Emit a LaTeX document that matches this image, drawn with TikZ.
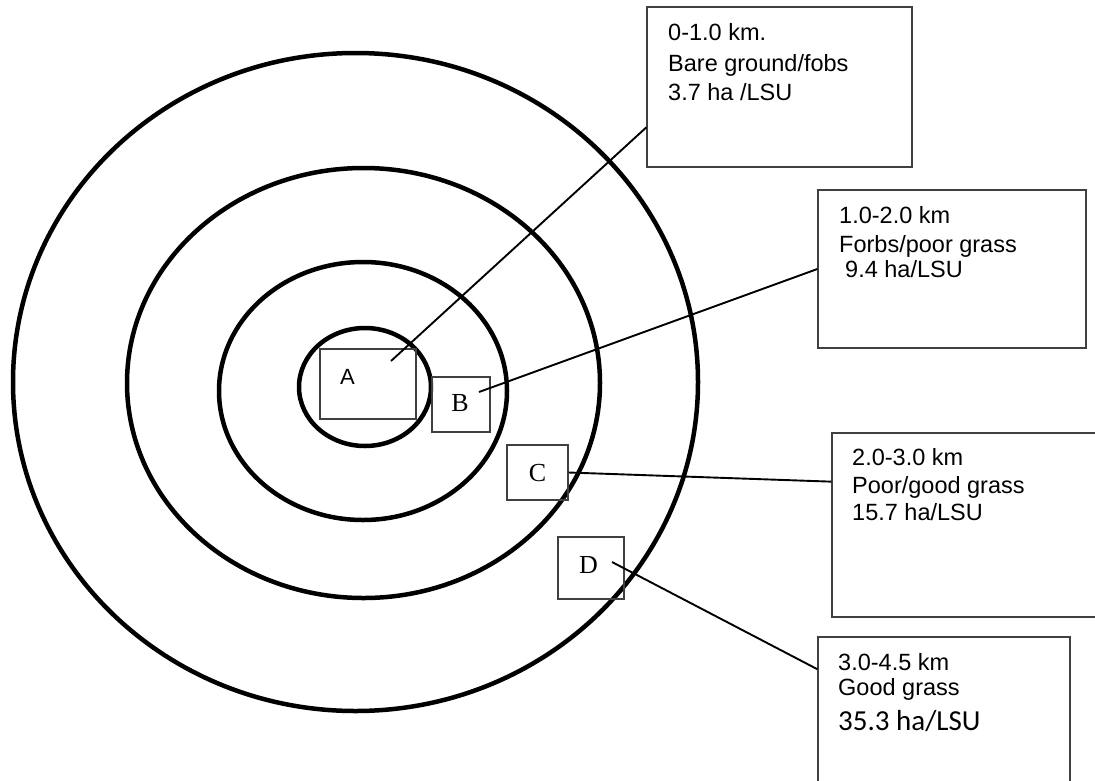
\documentclass[tikz,border=0pt]{standalone}
\usepackage{fontspec}
\setmainfont{Liberation Sans}
\newfontfamily\serfont{Liberation Serif}
\newfontfamily\calfont{Carlito}
\usetikzlibrary{calc}
\begin{document}
\begin{tikzpicture}[x=1pt,y=-1pt,
  ring/.style={draw=black,line width=4.5pt},
  bigbox/.style={draw=black!75,line width=1.3pt,inner sep=0pt,rectangle},
  smallbox/.style={draw=black!75,line width=1.3pt,inner sep=0pt,rectangle},
  conn/.style={draw=black,line width=1.9pt},
  txt/.style={inner sep=0pt,anchor=base west,font=\fontsize{23.5}{28}\selectfont},
  letter/.style={inner sep=0pt,font=\serfont\fontsize{26}{30}\selectfont}]
\useasboundingbox (0,0) rectangle (1095,780);
% rings
\draw[ring] (355.5,382) ellipse [x radius=342.5pt, y radius=329pt];
\draw[ring] (363.5,383) ellipse [x radius=236.5pt, y radius=215pt];
\draw[ring] (363,391) ellipse [x radius=144pt, y radius=129pt];
\draw[ring] (365,387) ellipse [x radius=66pt, y radius=59pt];
% small boxes
\node[smallbox,minimum width=96pt,minimum height=70pt] (A) at (368,384) {};
\node[smallbox,minimum width=58pt,minimum height=55pt] (B) at (461,404.5) {};
\node[smallbox,minimum width=61pt,minimum height=55pt] (C) at (537.5,472.5) {};
\node[smallbox,minimum width=66pt,minimum height=62pt] (D) at (591,568) {};
\node[inner sep=0pt,font=\fontsize{22}{26}\selectfont] (la) at (347.5,377) {A};
\node[letter] (lb) at (460,403.5) {B};
\node[letter] (lc) at (537.5,473) {C};
\node[letter] (ld) at (588.5,565.5) {D};
% big boxes
\node[bigbox,minimum width=265pt,minimum height=160pt] (box1) at (779.5,87) {};
\node[bigbox,minimum width=268pt,minimum height=158pt] (box2) at (952,269) {};
\node[bigbox,minimum width=278pt,minimum height=184pt] (box3) at (971,525) {};
\node[bigbox,minimum width=252pt,minimum height=163pt] (box4) at (944,718.5) {};
% texts
\node[txt] (t11) at (668,40) {0-1.0 km.};
\node[txt] (t12) at (668,71) {Bare ground/fobs};
\node[txt] (t13) at (668,100) {3.7 ha /LSU};
\node[txt] (t21) at (839,223) {1.0-2.0 km};
\node[txt] (t22) at (839,252) {Forbs/poor grass};
\node[txt] (t23) at (845,277) {9.4 ha/LSU};
\node[txt] (t31) at (852,465) {2.0-3.0 km};
\node[txt] (t32) at (852,493) {Poor/good grass};
\node[txt] (t33) at (852,520) {15.7 ha/LSU};
\node[txt] (t41) at (838,670) {3.0-4.5 km};
\node[txt] (t42) at (838,695) {Good grass};
\node[txt,font=\calfont\fontsize{29}{34}\selectfont] (t43) at (838,730) {35.3 ha/LSU};
% connectors
\coordinate (pa) at (391,361);
\coordinate (pb) at (479,392);
\coordinate (pd) at (612,562);
\coordinate (e1) at ($(box1.north west)!0.75!(box1.south west)$);
\coordinate (e3) at ($(box3.north west)!0.266!(box3.south west)$);
\coordinate (e4) at ($(box4.north west)!0.2!(box4.south west)$);
\draw[conn] (pa) -- (e1);
\draw[conn] (pb) -- (box2.west);
\draw[conn] (C.east) -- (e3);
\draw[conn] (pd) -- (e4);
\end{tikzpicture}
\end{document}
